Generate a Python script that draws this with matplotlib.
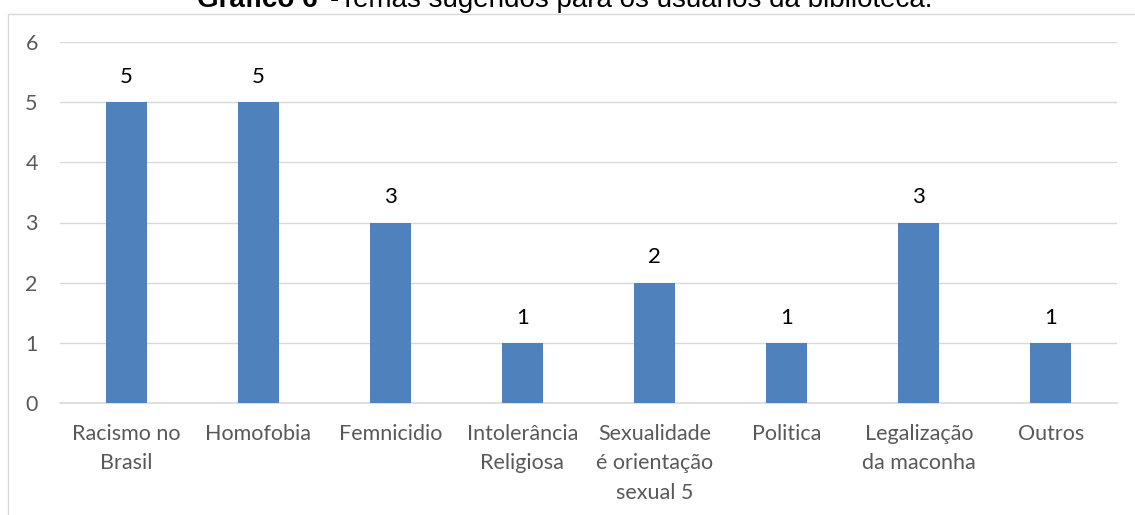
import matplotlib
matplotlib.use("Agg")
import matplotlib.pyplot as plt
from matplotlib.patches import Rectangle

categorias = ["Racismo no\nBrasil", "Homofobia", "Femnicidio", "Intolerância\nReligiosa",
              "Sexualidade\né orientação\nsexual 5", "Politica", "Legalização\nda maconha", "Outros"]
valores = [5, 5, 3, 1, 2, 1, 3, 1]
yticks = [0, 1, 2, 3, 4, 5, 6]

plt.rcParams['font.family'] = ['Lato', 'DejaVu Sans']
azul = '#4F81BD'
cinza = '#D9D9D9'
texto = '#595959'
W, H = 1135, 515

fig = plt.figure(figsize=(W / 100, H / 100), dpi=100)
ax = fig.add_axes([60 / W, 1 - 403 / H, 1057 / W, 361 / H])

x = range(len(valores))
ax.bar(x, valores, width=0.31, color=azul, zorder=3)
for xi, v in zip(x, valores):
    ax.annotate(str(v), (xi, v), xytext=(0, 11), textcoords='offset points',
                ha='center', va='bottom', fontsize=16, color='black')

ax.set_xlim(-0.5, len(valores) - 0.5)
ax.set_ylim(0, 6)
ax.set_yticks(yticks)
ax.set_xticks(list(x))
ax.set_xticklabels(categorias, fontsize=15.5, color=texto, linespacing=1.6)
ax.tick_params(axis='y', labelsize=15.5, labelcolor=texto, length=0, pad=16)
ax.tick_params(axis='x', length=0, pad=15)
ax.grid(axis='y', color=cinza, linewidth=1, zorder=0)
for s in ['top', 'right', 'left']:
    ax.spines[s].set_visible(False)
ax.spines['bottom'].set_color(cinza)
ax.spines['bottom'].set_linewidth(1.2)

# moldura do gráfico
fig.patches.append(Rectangle((8 / W, -0.1), 1.2, 1 - 14 / H + 0.1, transform=fig.transFigure,
                             fill=False, edgecolor=cinza, linewidth=1))

# título (cortado no topo, como na imagem original)
fig.text(318 / W, 1 - 7 / H, "Gráfico 6", ha='right', va='baseline', fontsize=20,
         fontweight='bold', family='Liberation Sans')
fig.text(330 / W, 1 - 7 / H, "-Temas sugeridos para os usuários da biblioteca.", ha='left',
         va='baseline', fontsize=20, family='Liberation Sans')

fig.savefig('out.png', dpi=100)
